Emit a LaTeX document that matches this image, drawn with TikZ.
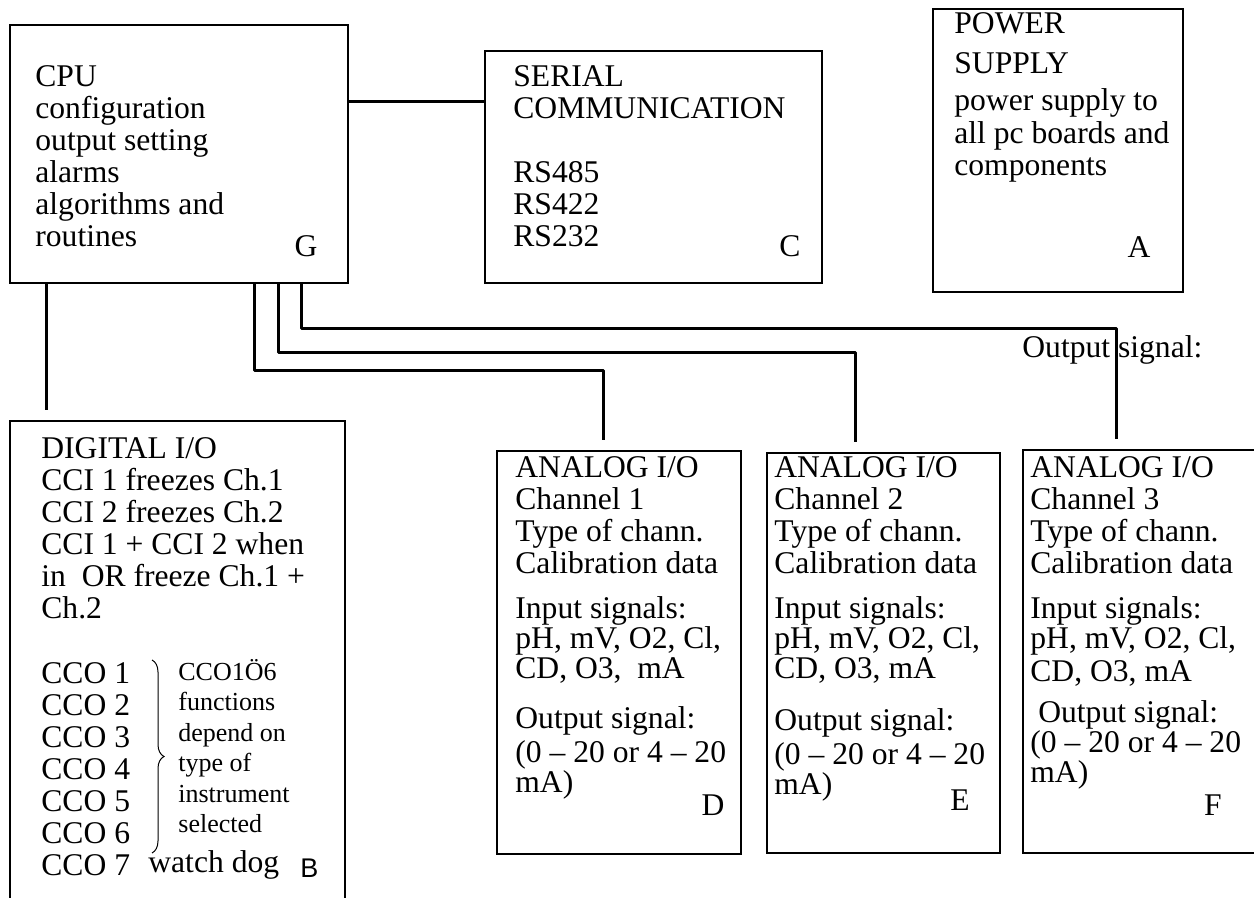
\documentclass[tikz,border=0pt]{standalone}
\usepackage{fontspec}
\setmainfont{Liberation Serif}
\newfontfamily\labelsans{Liberation Sans}
\usetikzlibrary{calc, fit, decorations.pathreplacing}

\tikzset{
    box/.style    = {draw, line width = 1.2pt, inner sep = 0pt},
    wire/.style   = {draw, line width = 1.5pt, line join = round, shorten > = 5pt},
    txt/.style    = {anchor = north west, align = left, inner sep = 0pt, font = \fontsize{15.8}{16}\selectfont},
    small/.style  = {anchor = north west, align = left, inner sep = 0pt, font = \fontsize{13}{15.2}\selectfont},
    letter/.style = {anchor = base, inner sep = 0pt, font = \fontsize{15.8}{16}\selectfont}
}

\begin{document}
\begin{tikzpicture}[x = 0.5pt, y = -0.5pt]

    \def\width  {1254}
    \def\height {898}

    % page
    \useasboundingbox (0, 0) rectangle (\width, \height);
    \clip (0, 0) rectangle (\width, \height);

    % cpu
    \node [box, fit = {(10, 25) (348, 283)}] (cpu) {};
    \node [txt] (cputext) at (35, 65) {CPU\\configuration\\output setting\\alarms\\algorithms and\\routines};
    \node [letter] (g) at (306, 257) {G};

    % serial communication
    \node [box, fit = {(485, 51) (822, 283)}] (serial) {};
    \node [txt] (serialtext) at (513, 65) {SERIAL\\COMMUNICATION\\[16pt]RS485\\RS422\\RS232};
    \node [letter] (c) at (790, 257) {C};

    % power supply
    \node [box, fit = {(933, 9) (1183, 292)}] (power) {};
    \node [txt] (powertext) at (954, 12) {POWER\\[4pt]SUPPLY\\[2.5pt]power supply to\\[0.5pt]all pc boards and\\components};
    \node [letter] (a) at (1139, 258) {A};

    % digital i/o
    \node [box, fit = {(10, 421) (345, 930)}] (digital) {};
    \node [txt] (digitaltext) at (41, 437) {DIGITAL I/O\\CCI 1 freezes Ch.1\\CCI 2 freezes Ch.2\\CCI 1 + CCI 2 when\\in\ \ OR freeze Ch.1 +\\Ch.2};
    \node [txt] (ccolist) at (41, 662) {CCO 1\\CCO 2\\CCO 3\\CCO 4\\CCO 5\\CCO 6\\CCO 7};
    \draw [decorate, decoration = {brace, amplitude = 6pt}, line width = 0.5pt] (152, 660) -- (152, 853);
    \node [small] (ccotext) at (178, 659) {CCO1Ö6\\functions\\depend on\\type of\\instrument\\selected};
    \node [txt, anchor = base west] (watchdog) at (148, 872) {watch dog};
    \node [anchor = base west, inner sep = 0pt, font = \labelsans\fontsize{13.5}{14}\selectfont] (b) at (300, 877) {B};

    % analog i/o channel 1
    \node [box, fit = {(497, 451) (741, 854)}] (chd) {};
    \node [txt] (chdtext) at (515, 456) {ANALOG I/O\\Channel 1\\Type of chann.\\Calibration data\\[6.5pt]Input signals:\\[-1pt]pH, mV, O2, Cl,\\[-1pt]CD, O3,\ \ mA\\[9pt]Output signal:\\[1pt](0 -- 20 or 4 -- 20\\[-1pt]mA)};
    \node [letter] (d) at (713, 815) {D};

    % analog i/o channel 2
    \node [box, fit = {(767, 453) (1000, 853)}] (che) {};
    \node [txt] (chetext) at (774, 456) {ANALOG I/O\\Channel 2\\Type of chann.\\Calibration data\\[6.5pt]Input signals:\\[-1pt]pH, mV, O2, Cl,\\[-1pt]CD, O3, mA\\[10pt]Output signal:\\[1pt](0 -- 20 or 4 -- 20\\[-1pt]mA)};
    \node [letter] (e) at (960, 810) {E};

    % analog i/o channel 3
    \node [box, fit = {(1023, 450) (1280, 853)}] (chf) {};
    \node [txt] (chftext) at (1030, 456) {ANALOG I/O\\Channel 3\\Type of chann.\\Calibration data\\[6.5pt]Input signals:\\[-1pt]pH, mV, O2, Cl,\\[0.5pt]CD, O3, mA\\[4.5pt]\ Output signal:\\[-1pt](0 -- 20 or 4 -- 20\\[-1pt]mA)};
    \node [letter] (f) at (1213, 815) {F};

    % stray label
    \node [txt, anchor = base west] (outsignal) at (1022, 358) {Output signal:};

    % cpu to serial
    \draw [wire, shorten > = 0pt] ($(cpu.north east) + (0, 78)$) -- ($(serial.north west) + (0, 52)$);
    % cpu to digital
    \draw [wire] ($(cpu.south west) + (38, 0)$) -- ($(digital.north west) + (38, 0)$);
    % cpu to channels
    \draw [wire] ($(cpu.south west) + (246, 0)$) -- ++(0, 86) -| ($(chd.north west) + (108, 0)$);
    \draw [wire] ($(cpu.south west) + (270, 0)$) -- ++(0, 68) -| ($(che.north west) + (90, 0)$);
    \draw [wire] ($(cpu.south west) + (293, 0)$) -- ++(0, 44) -| ($(chf.north west) + (95, 0)$);

\end{tikzpicture}
\end{document}
